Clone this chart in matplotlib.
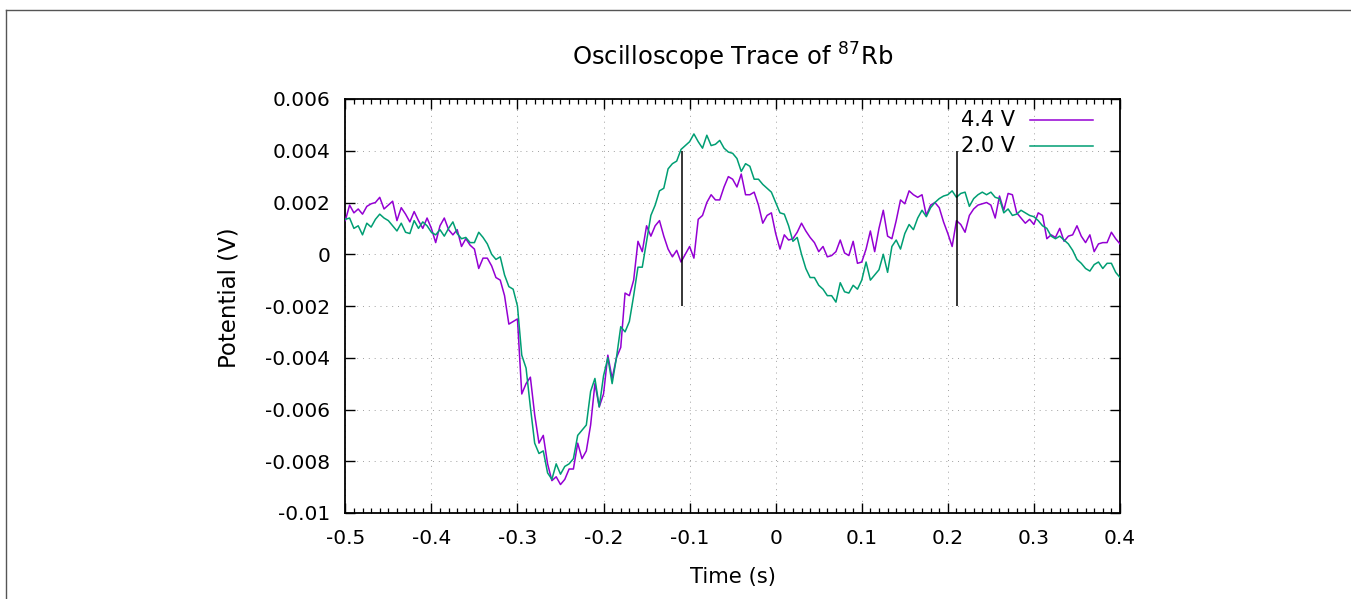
import numpy as np
import matplotlib
matplotlib.use("Agg")
import matplotlib.pyplot as plt
from matplotlib.lines import Line2D
from matplotlib.ticker import FixedLocator, FixedFormatter, MultipleLocator

# ---------------- data (time in s, potential in mV) ----------------
t_start, t_step, n_pts = -0.5, 0.005, 181
time_s = np.round(t_start + t_step * np.arange(n_pts), 4)

v44_mV = [
    1.3, 1.9, 1.6, 1.75, 1.55, 1.85, 1.95, 2.0, 2.2, 1.75, 1.9, 2.05, 1.3, 1.8, 1.55, 1.25,
    1.65, 1.3, 1.0, 1.4, 1.0, 0.45, 1.1, 1.4, 0.95, 0.75, 0.95, 0.3, 0.6, 0.35, 0.2,
    -0.55, -0.15, -0.15, -0.45, -0.9, -1.0, -1.6, -2.7, -2.6, -2.5, -5.4, -5.0, -4.75, -6.2, -7.3,
    -7.0, -8.1, -8.75, -8.6, -8.9, -8.7, -8.3, -8.3, -7.3, -7.9, -7.6, -6.6, -5.0, -5.9, -5.4,
    -3.9, -4.8, -4.0, -3.6, -1.5, -1.6, -1.0, 0.5, 0.1, 1.1, 0.7, 1.1, 1.3, 0.7, 0.2,
    -0.1, 0.15, -0.3, 0.0, 0.3, -0.15, 1.35, 1.5, 2.0, 2.3, 2.1, 2.1, 2.6, 3.0, 2.9,
    2.6, 3.1, 2.3, 2.3, 2.4, 1.9, 1.2, 1.5, 1.6, 0.8, 0.2, 0.75, 0.55, 0.6, 0.85,
    1.2, 0.9, 0.65, 0.45, 0.1, 0.3, -0.1, -0.05, 0.1, 0.55, 0.05, -0.05, 0.5, -0.35, -0.3,
    0.2, 0.9, 0.1, 1.0, 1.7, 0.7, 0.6, 1.3, 2.1, 1.95, 2.45, 2.3, 2.2, 2.3, 1.5,
    1.9, 2.0, 1.8, 1.25, 0.8, 0.3, 1.3, 1.15, 0.85, 1.5, 1.75, 1.9, 1.95, 2.0, 1.9,
    1.4, 2.25, 1.7, 2.35, 2.3, 1.6, 1.4, 1.2, 1.35, 1.15, 1.6, 1.5, 0.6, 0.75, 0.65,
    1.0, 0.5, 0.7, 0.75, 1.1, 0.7, 0.45, 0.75, 0.1, 0.4, 0.45, 0.45, 0.85, 0.6, 0.4,
]

v20_mV = [
    1.35, 1.4, 1.0, 1.1, 0.75, 1.2, 1.05, 1.35, 1.55, 1.4, 1.3, 1.1, 0.9, 1.2, 0.85, 0.8,
    1.3, 1.0, 1.25, 1.1, 0.85, 0.75, 0.95, 0.7, 1.0, 1.25, 0.8, 0.6, 0.65, 0.45, 0.45,
    0.85, 0.65, 0.4, 0.0, -0.2, -0.1, -0.8, -1.25, -1.35, -2.0, -3.9, -4.4, -5.9, -7.3, -7.7,
    -7.6, -8.45, -8.7, -8.1, -8.5, -8.2, -8.1, -7.9, -7.0, -6.8, -6.6, -5.3, -4.8, -5.9, -4.7,
    -4.0, -5.0, -4.0, -2.8, -3.0, -2.6, -1.6, -0.5, -0.5, 0.5, 1.5, 1.9, 2.45, 2.55, 3.3,
    3.5, 3.6, 4.05, 4.2, 4.35, 4.65, 4.35, 4.1, 4.6, 4.2, 4.25, 4.4, 4.1, 3.95, 3.9,
    3.7, 3.2, 3.5, 3.4, 2.9, 2.9, 2.7, 2.55, 2.4, 2.0, 1.6, 1.55, 1.1, 0.5, 0.65,
    0.0, -0.55, -0.9, -0.9, -1.2, -1.35, -1.6, -1.6, -1.85, -1.1, -1.45, -1.5, -1.2, -1.35, -1.0,
    -0.3, -1.0, -0.8, -0.6, 0.0, -0.7, 0.3, 0.55, 0.2, 0.8, 1.15, 0.95, 1.4, 1.7, 1.45,
    1.8, 2.0, 2.15, 2.25, 2.3, 2.45, 2.2, 2.35, 2.4, 1.85, 2.15, 2.3, 2.4, 2.3, 2.4,
    2.2, 2.15, 1.6, 1.75, 1.5, 1.55, 1.7, 1.6, 1.5, 1.45, 1.3, 1.1, 1.0, 0.7, 0.6,
    0.7, 0.55, 0.4, 0.15, -0.2, -0.35, -0.55, -0.65, -0.4, -0.3, -0.55, -0.35, -0.35, -0.7, -0.9,
]

series_labels = ["4.4 V", "2.0 V"]
series_colors = ["#9400d3", "#009e73"]

marker_times = [-0.109, 0.211]
marker_low, marker_high = -0.002, 0.004

x_ticks = [-0.5, -0.4, -0.3, -0.2, -0.1, 0.0, 0.1, 0.2, 0.3, 0.4]
x_tick_labels = ["-0.5", "-0.4", "-0.3", "-0.2", "-0.1", "0", "0.1", "0.2", "0.3", "0.4"]
y_ticks = [0.006, 0.004, 0.002, 0.0, -0.002, -0.004, -0.006, -0.008, -0.01]
y_tick_labels = ["0.006", "0.004", "0.002", "0", "-0.002", "-0.004", "-0.006", "-0.008", "-0.01"]

title = "Oscilloscope Trace of $^{87}$Rb"
x_label = "Time (s)"
y_label = "Potential (V)"

# ---------------- figure ----------------
W, H = 1351, 599
fig = plt.figure(figsize=(W / 100, H / 100), dpi=100)
fs = 14.5

ax_l, ax_r, ax_t, ax_b = 345.3, 1120.0, 99.0, 513.0
ax = fig.add_axes([ax_l / W, 1 - ax_b / H, (ax_r - ax_l) / W, (ax_b - ax_t) / H])

v44 = np.array(v44_mV) * 1e-3
v20 = np.array(v20_mV) * 1e-3

ax.plot(time_s, v44, color=series_colors[0], lw=1.1, zorder=3)
ax.plot(time_s, v20, color=series_colors[1], lw=1.1, zorder=3)
ax.vlines(marker_times, marker_low, marker_high, color="black", lw=1.1, zorder=4)

ax.set_xlim(-0.5, 0.4)
ax.set_ylim(-0.01, 0.006)

ax.xaxis.set_major_locator(FixedLocator(x_ticks))
ax.xaxis.set_major_formatter(FixedFormatter(x_tick_labels))
ax.xaxis.set_minor_locator(MultipleLocator(0.01))
ax.yaxis.set_major_locator(FixedLocator(y_ticks))
ax.yaxis.set_major_formatter(FixedFormatter(y_tick_labels))

ax.tick_params(which="both", direction="in", top=True, right=True, labelsize=fs, colors="black")
ax.tick_params(which="major", length=7.2, width=1.0)
ax.tick_params(which="minor", length=3.6, width=0.9)
ax.tick_params(axis="y", pad=10.8)
ax.tick_params(axis="x", pad=11.5)

for s in ax.spines.values():
    s.set_linewidth(1.3)
    s.set_color("black")

ax.grid(True, which="major", color="#a0a0a0", lw=0.7, linestyle=(0, (1, 5)))
ax.set_axisbelow(True)

# legend (gnuplot style key: text right-aligned, sample on the right)
leg_text_x, leg_line_x0, leg_line_x1 = 0.8645, 0.8838, 0.9652
leg_rows_y = [0.949, 0.8865]
for lbl, col, yy in zip(series_labels, series_colors, leg_rows_y):
    ax.text(leg_text_x, yy, lbl, transform=ax.transAxes, ha="right", va="center",
            fontsize=15, zorder=5)
    ax.add_line(Line2D([leg_line_x0, leg_line_x1], [yy, yy], transform=ax.transAxes,
                       color=col, lw=1.1, zorder=5))

fig.text(732.5 / W, 1 - 57 / H, title, ha="center", va="center", fontsize=17.5)
fig.text(732.5 / W, 1 - 577 / H, x_label, ha="center", va="center", fontsize=15.2)
fig.text(229 / W, 1 - 298 / H, y_label, ha="center", va="center", rotation=90, fontsize=16.5)

# outer frame fragment (top and left edges)
fig.add_artist(Line2D([6 / W, 1.0], [1 - 10 / H, 1 - 10 / H], transform=fig.transFigure,
                      color="#555555", lw=1.0))
fig.add_artist(Line2D([6 / W, 6 / W], [0.0, 1 - 10 / H], transform=fig.transFigure,
                      color="#555555", lw=1.0))

fig.savefig("out.png", dpi=100)
